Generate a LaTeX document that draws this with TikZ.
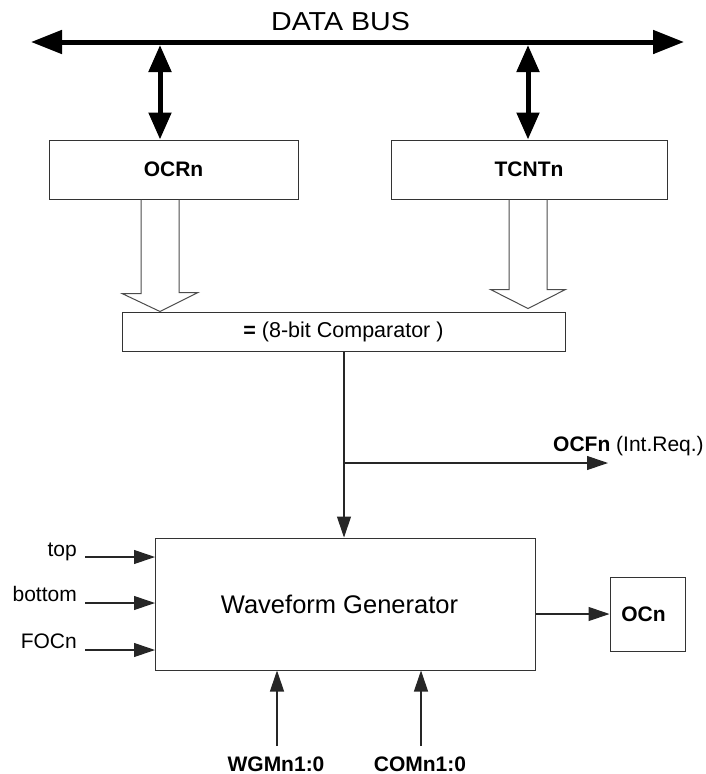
\documentclass[tikz,border=0pt]{standalone}
\usepackage{fontspec}
\setmainfont{Liberation Sans}
\newfontfamily\busfont[FakeStretch=1.1]{Liberation Sans}
\usetikzlibrary{arrows.meta,calc}
\tikzset{
  blk/.style={draw=black!80, line width=1pt, inner sep=0pt},
  lbl/.style={font=\fontsize{21}{25}\selectfont, inner sep=0pt},
  thinline/.style={draw=black!85, line width=1.1pt},
  tarrow/.style={thinline, -{Triangle[length=21pt,width=14pt]}},
  busline/.style={line width=5pt, {Triangle[length=31pt,width=23pt]}-{Triangle[length=31pt,width=23pt]}},
  dblarrow/.style={line width=5pt, {Triangle[length=27pt,width=22pt]}-{Triangle[length=27pt,width=22pt]}},
  hol/.style={draw=black!70, line width=1pt, line join=miter}
}
\begin{document}
\begin{tikzpicture}[x=1pt,y=-1pt]
\useasboundingbox (0,0) rectangle (706,774);
% boxes
\node[blk, minimum width=249pt, minimum height=59pt, font=\fontsize{21}{25}\selectfont\bfseries] (ocr) at (173.5,169.5) {OCRn};
\node[blk, minimum width=276pt, minimum height=59pt, font=\fontsize{21}{25}\selectfont\bfseries] (tc) at (529,169.5) {TCNTn};
\node[blk, minimum width=443pt, minimum height=39pt, font=\fontsize{21.5}{25}\selectfont] (comp) at (343.5,331.5) {{\bfseries =} (8-bit Comparator )};
\node[blk, minimum width=380pt, minimum height=132pt, font=\fontsize{25.5}{30}\selectfont] (wg) at (345.5,604) {Waveform Generator\kern12pt};
\node[blk, minimum width=75pt, minimum height=74pt, font=\fontsize{21}{25}\selectfont\bfseries] (ocn) at (647.5,614) {OCn\kern8pt};
% data bus
\coordinate (busL) at (31,42);
\coordinate (busR) at (684,42);
\draw[busline] (busL) -- (busR);
\node[anchor=base, font=\fontsize{26}{30}\selectfont\busfont, inner sep=0pt] (db) at (340.5,30) {DATA BUS};
\coordinate (b1) at (160,45);
\coordinate (b2) at (528,45);
\draw[dblarrow] (b1) -- (b1 |- ocr.north);
\draw[dblarrow] (b2) -- (b2 |- tc.north);
% hollow arrows
\coordinate (h1) at (160,0);
\coordinate (h2) at (528,0);
\draw[hol] ($(h1|-ocr.south)+(-19,0)$) -- ++(0,94) -- ++(-19,0) -- (h1|-comp.north) -- ++(38,-19) -- ++(-19,0) -- ($(h1|-ocr.south)+(19,0)$);
\draw[hol] ($(h2|-tc.south)+(-19,0)$) -- ++(0,90) -- ++(-18.5,0) -- ++(37.5,19) -- ++(37.5,-19) -- ++(-18.5,0) -- ($(h2|-tc.south)+(19,0)$);
% comparator output
\coordinate (cx) at (344,0);
\coordinate (br) at (344,463);
\coordinate (ocfend) at (608,463);
\draw[thinline] (cx|-comp.south) -- (br);
\draw[tarrow] (br) -- (cx|-wg.north);
\draw[tarrow] (br) -- (ocfend);
\node[lbl, anchor=base west] (ocf) at (553,451) {\bfseries OCFn \mdseries(Int.Req.)};
% output
\draw[tarrow] (wg.east |- ocn.west) -- (ocn.west);
% left inputs
\coordinate (it) at (85,557);
\coordinate (ib) at (85,603);
\coordinate (ifo) at (85,650);
\draw[tarrow] (it) -- (it -| wg.west);
\draw[tarrow] (ib) -- (ib -| wg.west);
\draw[tarrow] (ifo) -- (ifo -| wg.west);
\node[lbl, anchor=base east] (lt) at (77,556) {top};
\node[lbl, anchor=base east] (lb) at (77,601) {bottom};
\node[lbl, anchor=base east] (lf) at (77,648.5) {FOCn};
% bottom inputs
\coordinate (wgmc) at (277,746);
\coordinate (comc) at (421,746);
\draw[tarrow] (wgmc) -- (wgmc |- wg.south);
\draw[tarrow] (comc) -- (comc |- wg.south);
\node[lbl, anchor=base, font=\fontsize{21}{25}\selectfont\bfseries] (wgm) at (276,771) {WGMn1:0};
\node[lbl, anchor=base, font=\fontsize{21}{25}\selectfont\bfseries] (com) at (420,771) {COMn1:0};
\end{tikzpicture}
\end{document}
